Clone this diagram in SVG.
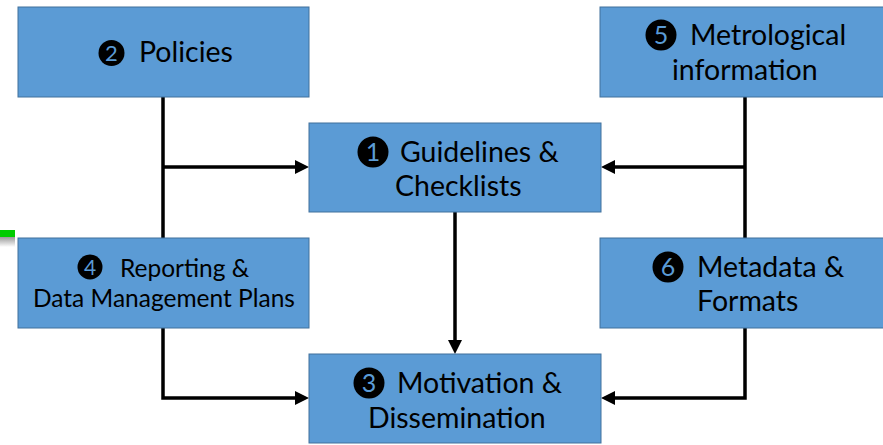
<svg xmlns="http://www.w3.org/2000/svg" width="883" height="445" viewBox="0 0 883 445">
<style>
.box{fill:#5B9BD5;stroke:#41719C;stroke-width:1}
.t{font-family:Lato,"Open Sans",sans-serif;font-size:28.5px;fill:#000}
.ts{font-size:24.5px}
.num{font-family:Lato,"Open Sans",sans-serif;fill:#5B9BD5;text-anchor:middle}
.conn{fill:none;stroke:#000;stroke-width:3.5}
</style>
<defs>
<marker id="ah" markerUnits="userSpaceOnUse" markerWidth="14" markerHeight="14" refX="8" refY="7" orient="auto">
<path d="M0,0 L14,7 L0,14 z" fill="#000"/>
</marker>
<linearGradient id="sh" x1="0" y1="0" x2="0" y2="1">
<stop offset="0" stop-color="#999"/>
<stop offset="1" stop-color="#fff"/>
</linearGradient>
</defs>
<rect x="0" y="237" width="15" height="10" fill="url(#sh)"/>
<rect x="0" y="230" width="15" height="7" fill="#00CC00"/>
<g id="connectors">
<path class="conn" d="M163 97 V398 H303" marker-end="url(#ah)"/>
<path class="conn" d="M163 167 H303" marker-end="url(#ah)"/>
<path class="conn" d="M745 97 V398 H607" marker-end="url(#ah)"/>
<path class="conn" d="M745 167 H607" marker-end="url(#ah)"/>
<path class="conn" d="M455 212 V348" marker-end="url(#ah)"/>
</g>
<g id="n2">
<rect class="box" x="18" y="7" width="291" height="90"/>
<circle cx="111.5" cy="53" r="13"/>
<text class="num" x="111.5" y="61" font-size="22">2</text>
<text class="t" x="139" y="62">Policies</text>
</g>
<g id="n5">
<rect class="box" x="600" y="7" width="284" height="90"/>
<circle cx="661" cy="35" r="15.5"/>
<text class="num" x="661" y="44" font-size="25">5</text>
<text class="t" x="690" y="45">Metrological</text>
<text class="t" x="672" y="80">information</text>
</g>
<g id="n1">
<rect class="box" x="309" y="123" width="292" height="89"/>
<circle cx="373" cy="152" r="15.5"/>
<text class="num" x="373" y="161" font-size="25">1</text>
<text class="t" x="400" y="162">Guidelines &amp;</text>
<text class="t" x="395" y="196">Checklists</text>
</g>
<g id="n4">
<rect class="box" x="18" y="238" width="291" height="90"/>
<circle cx="90" cy="267" r="12.5"/>
<text class="num" x="90" y="275" font-size="21">4</text>
<text class="t ts" x="120" y="277">Reporting &amp;</text>
<text class="t ts" x="33" y="307">Data Management Plans</text>
</g>
<g id="n6">
<rect class="box" x="600" y="238" width="284" height="90"/>
<circle cx="668" cy="267" r="15.5"/>
<text class="num" x="668" y="276" font-size="25">6</text>
<text class="t" x="697" y="277">Metadata &amp;</text>
<text class="t" x="697" y="311">Formats</text>
</g>
<g id="n3">
<rect class="box" x="309" y="354" width="292" height="89"/>
<circle cx="369" cy="383" r="15.5"/>
<text class="num" x="369" y="392" font-size="25">3</text>
<text class="t" x="397" y="393">Motivation &amp;</text>
<text class="t" x="368" y="428">Dissemination</text>
</g>
</svg>
